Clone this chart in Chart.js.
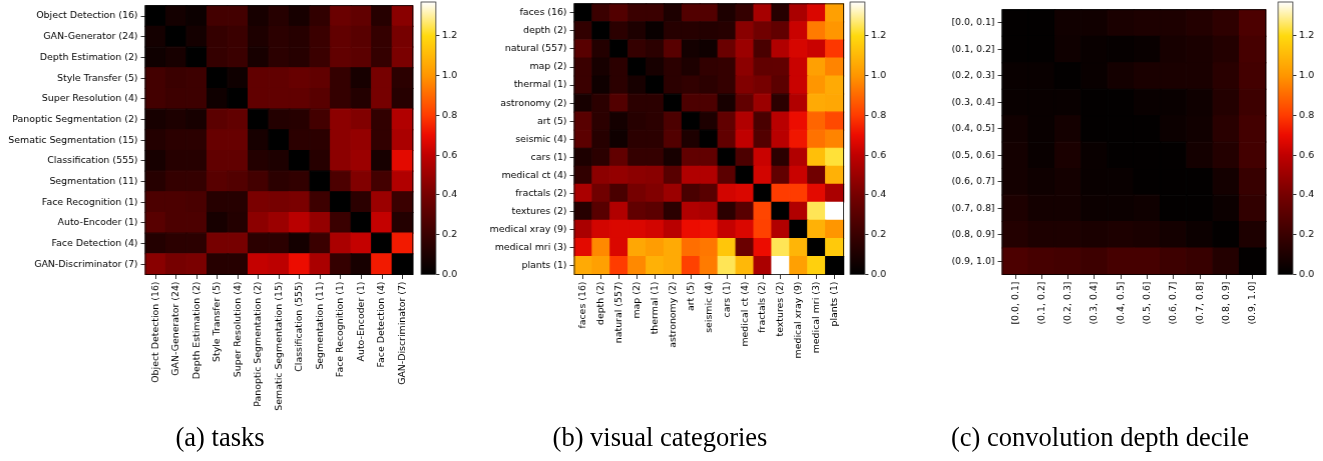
<!DOCTYPE html>
<html>
<head>
<meta charset="utf-8">
<script src="https://cdn.jsdelivr.net/npm/chart.js@4.4.0/dist/chart.umd.min.js"></script>
<style>
  body { margin: 0; background: #fff; width: 1323px; height: 461px; position: relative; overflow: hidden; }
  .box { position: absolute; }
  .caption {
    position: absolute; top: 422px; transform: translateX(-50%);
    font-family: "Liberation Serif", "Times New Roman", serif; font-size: 26.5px;
    color: #000; white-space: nowrap;
  }
</style>
</head>
<body>
<div class="box" id="boxA"><canvas id="heatA"></canvas></div>
<div class="box" id="boxB"><canvas id="heatB"></canvas></div>
<div class="box" id="boxC"><canvas id="heatC"></canvas></div>
<div class="box" id="cbBoxA"><canvas id="cbA"></canvas></div>
<div class="box" id="cbBoxB"><canvas id="cbB"></canvas></div>
<div class="box" id="cbBoxC"><canvas id="cbC"></canvas></div>
<div class="caption" style="left:220px">(a) tasks</div>
<div class="caption" style="left:660px">(b) visual categories</div>
<div class="caption" style="left:1100px">(c) convolution depth decile</div>

<script>
// ---- data ----
const taskLabels = ['Object Detection (16)', 'GAN-Generator (24)', 'Depth Estimation (2)', 'Style Transfer (5)',
  'Super Resolution (4)', 'Panoptic Segmentation (2)', 'Sematic Segmentation (15)', 'Classification (555)',
  'Segmentation (11)', 'Face Recognition (1)', 'Auto-Encoder (1)', 'Face Detection (4)', 'GAN-Discriminator (7)'];
const taskValues = [
  [0, 0.07, 0.04, 0.23, 0.23, 0.08, 0.13, 0.08, 0.17, 0.36, 0.33, 0.13, 0.45],
  [0.07, 0, 0.07, 0.18, 0.20, 0.10, 0.15, 0.13, 0.20, 0.33, 0.30, 0.18, 0.40],
  [0.05, 0.08, 0, 0.18, 0.20, 0.08, 0.15, 0.13, 0.20, 0.33, 0.31, 0.18, 0.41],
  [0.23, 0.20, 0.21, 0, 0.05, 0.33, 0.33, 0.35, 0.33, 0.18, 0.08, 0.40, 0.15],
  [0.23, 0.21, 0.21, 0.05, 0, 0.33, 0.33, 0.33, 0.30, 0.18, 0.12, 0.40, 0.13],
  [0.08, 0.10, 0.08, 0.31, 0.33, 0, 0.12, 0.13, 0.23, 0.46, 0.43, 0.17, 0.56],
  [0.12, 0.15, 0.15, 0.35, 0.35, 0.08, 0, 0.15, 0.15, 0.46, 0.48, 0.17, 0.54],
  [0.08, 0.13, 0.13, 0.33, 0.33, 0.12, 0.10, 0, 0.13, 0.46, 0.50, 0.08, 0.68],
  [0.13, 0.18, 0.18, 0.30, 0.28, 0.23, 0.15, 0.17, 0, 0.26, 0.43, 0.23, 0.56],
  [0.26, 0.26, 0.25, 0.13, 0.13, 0.41, 0.40, 0.41, 0.21, 0, 0.15, 0.50, 0.20],
  [0.30, 0.26, 0.26, 0.08, 0.12, 0.46, 0.50, 0.58, 0.48, 0.20, 0, 0.61, 0.12],
  [0.12, 0.15, 0.15, 0.40, 0.40, 0.15, 0.15, 0.07, 0.20, 0.54, 0.61, 0, 0.73],
  [0.45, 0.40, 0.41, 0.13, 0.13, 0.61, 0.59, 0.70, 0.54, 0.18, 0.08, 0.73, 0]
];

const visualLabels = ['faces (16)', 'depth (2)', 'natural (557)', 'map (2)', 'thermal (1)', 'astronomy (2)',
  'art (5)', 'seismic (4)', 'cars (1)', 'medical ct (4)', 'fractals (2)', 'textures (2)',
  'medical xray (9)', 'medical mri (3)', 'plants (1)'];
const visualValues = [
  [0, 0.20, 0.28, 0.20, 0.20, 0.10, 0.28, 0.28, 0.10, 0.18, 0.53, 0.13, 0.54, 0.66, 1.03],
  [0.17, 0, 0.15, 0.10, 0.03, 0.13, 0.13, 0.12, 0.13, 0.45, 0.38, 0.33, 0.62, 0.94, 1.00],
  [0.30, 0.12, 0, 0.18, 0.15, 0.30, 0.07, 0.05, 0.36, 0.50, 0.25, 0.56, 0.65, 0.62, 0.79],
  [0.20, 0.08, 0.15, 0, 0.08, 0.15, 0.10, 0.17, 0.18, 0.46, 0.33, 0.33, 0.62, 1.03, 0.96],
  [0.20, 0.05, 0.15, 0.08, 0, 0.15, 0.17, 0.15, 0.18, 0.43, 0.40, 0.31, 0.62, 1.00, 1.06],
  [0.08, 0.15, 0.28, 0.15, 0.15, 0, 0.26, 0.26, 0.08, 0.33, 0.50, 0.15, 0.56, 1.06, 1.05],
  [0.30, 0.15, 0.07, 0.13, 0.15, 0.26, 0, 0.10, 0.33, 0.56, 0.25, 0.58, 0.70, 0.89, 0.83],
  [0.31, 0.13, 0.05, 0.15, 0.15, 0.28, 0.10, 0, 0.33, 0.60, 0.28, 0.58, 0.72, 0.92, 0.96],
  [0.10, 0.15, 0.33, 0.18, 0.18, 0.08, 0.33, 0.33, 0, 0.26, 0.62, 0.15, 0.56, 1.12, 1.23],
  [0.17, 0.46, 0.48, 0.46, 0.45, 0.30, 0.56, 0.56, 0.31, 0, 0.64, 0.33, 0.62, 0.38, 1.08],
  [0.54, 0.38, 0.25, 0.40, 0.43, 0.50, 0.25, 0.30, 0.64, 0.66, 0, 0.80, 0.80, 0.68, 0.54],
  [0.13, 0.30, 0.56, 0.33, 0.31, 0.15, 0.56, 0.54, 0.15, 0.30, 0.82, 0, 0.56, 1.25, 1.37],
  [0.54, 0.64, 0.66, 0.66, 0.64, 0.58, 0.70, 0.71, 0.61, 0.66, 0.81, 0.56, 0, 1.08, 1.00],
  [0.68, 0.97, 0.66, 1.05, 1.02, 1.06, 0.91, 0.93, 1.14, 0.36, 0.70, 1.25, 1.09, 0, 1.15],
  [1.06, 1.03, 0.80, 0.97, 1.08, 1.06, 0.81, 0.94, 1.25, 1.10, 0.54, 1.37, 1.03, 1.17, 0]
];

const depthLabels = ['[0.0, 0.1]', '(0.1, 0.2]', '(0.2, 0.3]', '(0.3, 0.4]', '(0.4, 0.5]',
  '(0.5, 0.6]', '(0.6, 0.7]', '(0.7, 0.8]', '(0.8, 0.9]', '(0.9, 1.0]'];
const depthValues = [
  [0.01, 0.01, 0.06, 0.06, 0.09, 0.10, 0.10, 0.12, 0.16, 0.26],
  [0.01, 0.01, 0.05, 0.03, 0.02, 0.03, 0.08, 0.09, 0.12, 0.24],
  [0.03, 0.03, 0.01, 0.03, 0.07, 0.09, 0.09, 0.09, 0.14, 0.23],
  [0.03, 0.03, 0.03, 0.01, 0.01, 0.03, 0.03, 0.05, 0.12, 0.21],
  [0.06, 0.03, 0.07, 0.01, 0.01, 0.01, 0.04, 0.06, 0.14, 0.23],
  [0.07, 0.03, 0.09, 0.03, 0.01, 0.01, 0.01, 0.07, 0.12, 0.23],
  [0.07, 0.05, 0.07, 0.03, 0.03, 0.01, 0.01, 0.01, 0.07, 0.19],
  [0.10, 0.07, 0.07, 0.04, 0.04, 0.05, 0.01, 0.01, 0.04, 0.17],
  [0.12, 0.10, 0.10, 0.09, 0.10, 0.09, 0.07, 0.04, 0.01, 0.10],
  [0.26, 0.24, 0.23, 0.21, 0.24, 0.24, 0.21, 0.19, 0.12, 0.01]
];

const colorbarTicks = [0.0, 0.2, 0.4, 0.6, 0.8, 1.0, 1.2];
const vmax = 1.37;

// ---- colour map (value -> rgb), hot-like ----
const cmapStops = [
  [0.0, [0, 0, 0]],
  [0.2, [58, 0, 0]],
  [0.4, [118, 0, 0]],
  [0.6, [192, 0, 0]],
  [0.7, [236, 12, 0]],
  [0.8, [255, 60, 0]],
  [1.0, [255, 150, 0]],
  [1.2, [255, 218, 15]],
  [1.37, [255, 255, 255]]
];

function cmap(v) {
  if (v <= cmapStops[0][0]) return rgb(cmapStops[0][1]);
  for (let k = 1; k < cmapStops.length; k++) {
    const [v1, c1] = cmapStops[k];
    if (v <= v1) {
      const [v0, c0] = cmapStops[k - 1];
      const f = (v - v0) / (v1 - v0);
      return rgb(c0.map((c, i) => c + (c1[i] - c) * f));
    }
  }
  return rgb(cmapStops[cmapStops.length - 1][1]);
}
function rgb(c) {
  return `rgb(${Math.round(c[0])}, ${Math.round(c[1])}, ${Math.round(c[2])})`;
}

// ---- layout ----
const SIZE = 272.5;     // heatmap square
const TOP = 2;
const CB_GAP = 3.7;
const CB_W = 14.5;
const tickFont = { family: 'DejaVu Sans', size: 9.4 };

const frame = {
  id: 'frame',
  afterDatasetsDraw(chart, args, opts) {
    const { ctx, chartArea: a } = chart;
    ctx.save();
    ctx.strokeStyle = opts.color || '#000';
    ctx.lineWidth = 0.8;
    ctx.strokeRect(a.left, a.top, a.width, a.height);
    ctx.restore();
  }
};

// keep the chart area exactly where the layout padding puts it
function fixSize(s, w, h) {
  if (w !== undefined) s.width = w;
  if (h !== undefined) s.height = h;
  s.paddingTop = s.paddingBottom = s.paddingLeft = s.paddingRight = 0;
}

function place(id, left, top, w, h) {
  const el = document.getElementById(id);
  Object.assign(el.style, { left: left + 'px', top: top + 'px', width: w + 'px', height: h + 'px' });
}

function heatmap(canvasId, boxId, labels, values, hmLeft, yAxisW) {
  const n = labels.length;
  const boxH = 471;
  const xAxisH = boxH - 10 - TOP - SIZE;
  place(boxId, hmLeft - yAxisW, -10, yAxisW + SIZE + 10, boxH);

  const points = [];
  values.forEach((row, i) => row.forEach((v, j) => points.push({ x: labels[j], y: labels[i], v: v })));

  const fill = ctx => ctx.raw ? cmap(ctx.raw.v) : '#000';

  new Chart(document.getElementById(canvasId), {
    type: 'scatter',
    data: {
      datasets: [{
        data: points,
        pointStyle: 'rect',
        pointRadius: ctx => ctx.chart.chartArea ? ctx.chart.chartArea.width / n / Math.SQRT2 : 5,
        pointBackgroundColor: fill,
        pointBorderColor: fill,
        pointBorderWidth: 1.2
      }]
    },
    options: {
      responsive: true,
      maintainAspectRatio: false,
      animation: false,
      events: [],
      layout: { padding: { top: TOP + 10, right: 10, left: 0, bottom: 0 } },
      plugins: { legend: { display: false }, tooltip: { enabled: false }, frame: { color: '#000' } },
      scales: {
        x: {
          type: 'category',
          labels: labels,
          offset: true,
          afterFit: s => fixSize(s, undefined, xAxisH),
          grid: { drawOnChartArea: false, drawTicks: true, tickLength: 4.5, color: '#000', lineWidth: 0.8, offset: false },
          border: { display: false },
          ticks: { font: tickFont, color: '#000', autoSkip: false, maxRotation: 90, minRotation: 90, padding: 2.5 }
        },
        y: {
          type: 'category',
          labels: labels,
          offset: true,
          afterFit: s => fixSize(s, yAxisW, undefined),
          grid: { drawOnChartArea: false, drawTicks: true, tickLength: 4.5, color: '#000', lineWidth: 0.8, offset: false },
          border: { display: false },
          ticks: { font: tickFont, color: '#000', autoSkip: false, padding: 3 }
        }
      }
    },
    plugins: [frame]
  });
}

function colorbar(canvasId, boxId, hmLeft) {
  const cbLeft = hmLeft + SIZE + CB_GAP;
  const padL = 5, axisW = 32, padR = 4, boxH = 300;
  place(boxId, cbLeft - padL, -10, padL + CB_W + axisW + padR, boxH);

  new Chart(document.getElementById(canvasId), {
    type: 'bar',
    data: {
      labels: [''],
      datasets: [{
        data: [[0, vmax]],
        barPercentage: 1,
        categoryPercentage: 1,
        borderWidth: 0,
        backgroundColor: ctx => {
          const a = ctx.chart.chartArea;
          if (!a) return '#000';
          const g = ctx.chart.ctx.createLinearGradient(0, a.bottom, 0, a.top);
          cmapStops.forEach(([v, c]) => g.addColorStop(v / vmax, rgb(c)));
          return g;
        }
      }]
    },
    options: {
      responsive: true,
      maintainAspectRatio: false,
      animation: false,
      events: [],
      layout: { padding: { top: TOP + 10, bottom: boxH - 10 - TOP - SIZE, left: padL, right: padR } },
      plugins: { legend: { display: false }, tooltip: { enabled: false }, frame: { color: '#333' } },
      scales: {
        x: { display: false },
        y: {
          position: 'right',
          min: 0,
          max: vmax,
          afterFit: s => fixSize(s, axisW, undefined),
          afterBuildTicks: s => { s.ticks = colorbarTicks.map(v => ({ value: v })); },
          grid: { drawOnChartArea: false, drawTicks: true, tickLength: 3.5, color: '#000', lineWidth: 0.8 },
          border: { display: false },
          ticks: { font: tickFont, color: '#000', padding: 2.5, callback: v => v.toFixed(1) }
        }
      }
    },
    plugins: [frame]
  });
}

heatmap('heatA', 'boxA', taskLabels, taskValues, 145, 145);
heatmap('heatB', 'boxB', visualLabels, visualValues, 574, 144);
heatmap('heatC', 'boxC', depthLabels, depthValues, 1002, 102);
colorbar('cbA', 'cbBoxA', 145);
colorbar('cbB', 'cbBoxB', 574);
colorbar('cbC', 'cbBoxC', 1002);
</script>
</body>
</html>
